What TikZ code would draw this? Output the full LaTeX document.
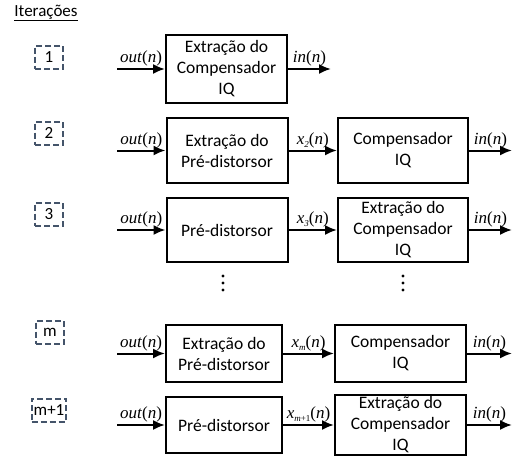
\documentclass[tikz,border=0pt]{standalone}
\usepackage{fontspec}
\setmainfont{Carlito}
\newfontfamily\tnr{Liberation Serif}
\usetikzlibrary{arrows.meta,positioning}
\definecolor{tagblue}{RGB}{68,84,106}
\newcommand{\sig}[1]{\textit{#1}(\textit{n})}
\newcommand{\sub}[1]{\raisebox{-0.35ex}{\fontsize{9}{9}\selectfont #1}}
\tikzset{
  block/.style={draw, line width=2pt, align=center, inner sep=2pt,
                font=\fontsize{17.5}{21}\selectfont},
  blockA/.style={block, minimum width=121pt},
  blockB/.style={block, minimum width=130pt},
  itertag/.style={draw=tagblue, dash pattern=on 6pt off 3pt, line width=2pt,
                  minimum width=28pt, minimum height=23pt, inner sep=2pt,
                  font=\fontsize{17}{18}\selectfont},
  arrow/.style={-{Latex[length=12pt,width=10pt]}, line width=2pt},
  siglabel/.style={above, inner sep=1.5pt, font=\fontsize{17}{19}\selectfont\tnr},
  dot/.style={fill, circle, inner sep=0pt, minimum size=3.4pt}
}
\begin{document}
\begin{tikzpicture}[x=1pt,y=-1pt]
  \useasboundingbox (0,0) rectangle (520,464);
  \node[font=\fontsize{17}{18}\selectfont] (title) at (46,13) {\underline{Iterações}};

  % iteration 1
  \node[itertag] (t1) at (49,57) {1};
  \node[blockA, minimum height=68pt] (e1) at (226.5,69) {Extração do\\Compensador\\IQ};
  \coordinate (i1) at (117,69);
  \coordinate (o1) at (331,69);
  \draw[arrow] (i1) -- node[siglabel] {\sig{out}} (e1);
  \draw[arrow] (e1) -- node[siglabel] {\sig{in}} (o1);

  % iteration 2
  \node[itertag] (t2) at (49,133) {2};
  \node[blockA, minimum height=65pt] (a2) at (227,150.5) {Extração do\\Pré-distorsor};
  \node[blockB, minimum height=65pt] (b2) at (403,150.5) {Compensador\\IQ};
  \coordinate (i2) at (117,150.5);
  \coordinate (o2) at (512,150.5);
  \draw[arrow] (i2) -- node[siglabel] {\sig{out}} (a2);
  \draw[arrow] (a2) -- node[siglabel] {\sig{x\sub{2}}} (b2);
  \draw[arrow] (b2) -- node[siglabel] {\sig{in}} (o2);

  % iteration 3
  \node[itertag] (t3) at (49,214) {3};
  \node[blockA, minimum height=64pt] (a3) at (227,230) {Pré-distorsor};
  \node[blockB, minimum height=64pt] (b3) at (403,230) {Extração do\\Compensador\\IQ};
  \coordinate (i3) at (117,230);
  \coordinate (o3) at (512,230);
  \draw[arrow] (i3) -- node[siglabel] {\sig{out}} (a3);
  \draw[arrow] (a3) -- node[siglabel] {\sig{x\sub{3}}} (b3);
  \draw[arrow] (b3) -- node[siglabel] {\sig{in}} (o3);

  % vertical dots
  \foreach \x/\n in {223/l,403/r}
    \foreach \y/\k in {276/1,283/2,290/3}
      \node[dot] (d\n\k) at (\x,\y) {};

  % iteration m
  \node[itertag] (tm) at (50,332) {m};
  \node[blockA, minimum width=116pt, minimum height=57pt] (am) at (224,353.5) {Extração do\\Pré-distorsor};
  \node[blockB, minimum width=131pt, minimum height=57pt] (bm) at (400.5,353.5) {Compensador\\IQ};
  \coordinate (im) at (117,353.5);
  \coordinate (om) at (512,353.5);
  \draw[arrow] (im) -- node[siglabel] {\sig{out}} (am);
  \draw[arrow] (am) -- node[siglabel] {\sig{x\sub{m}}} (bm);
  \draw[arrow] (bm) -- node[siglabel] {\sig{in}} (om);

  % iteration m+1
  \node[itertag] (tn) at (49,410) {m+1};
  \node[blockA, minimum width=116pt, minimum height=56pt] (an) at (224,425) {Pré-distorsor};
  \node[blockB, minimum width=131pt, minimum height=56pt] (bn) at (400.5,425) {Extração do\\Compensador\\IQ};
  \coordinate (in) at (117,425);
  \coordinate (on) at (512,425);
  \draw[arrow] (in) -- node[siglabel] {\sig{out}} (an);
  \draw[arrow] (an) -- node[siglabel] {\sig{x\sub{m{\upshape +1}}}} (bn);
  \draw[arrow] (bn) -- node[siglabel] {\sig{in}} (on);
\end{tikzpicture}
\end{document}
